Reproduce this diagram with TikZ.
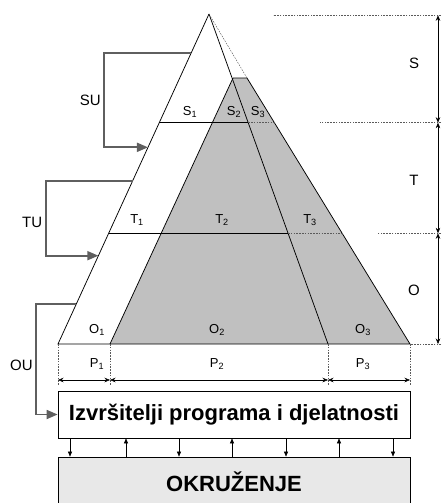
\documentclass[tikz,border=0pt]{standalone}
\usepackage{fontspec}
\setmainfont{Liberation Sans}
\usetikzlibrary{arrows.meta,calc}
\tikzset{every picture/.style={line width=0.75pt}}
\tikzset{
	guide/.style={line width=0.45pt, draw={rgb, 255:red, 90; green, 90; blue, 90 }, dash pattern=on 1.6pt off 1.2pt},
	dim/.style={line width=0.55pt, {Stealth[length=5.5pt,width=4.5pt]}-{Stealth[length=5.5pt,width=4.5pt]}},
	fb/.style={line width=1.7pt, draw={rgb, 255:red, 95; green, 95; blue, 95 }, -{Triangle[length=11pt,width=9pt]}},
	link/.style={line width=0.5pt, -{Triangle[length=5pt,width=4pt]}},
	sublbl/.style={font=\fontsize{13}{15}\selectfont, inner sep=0pt},
	biglbl/.style={font=\fontsize{15}{17}\selectfont, inner sep=0pt},
	boxtxt/.style={font=\fontsize{22}{26}\selectfont\bfseries, inner sep=0pt, minimum width=352pt}}

\begin{document}
\begin{tikzpicture}[x=1pt,y=1pt,yscale=-1,xscale=1]
	\useasboundingbox (0,0) rectangle (443,503);

	% pyramid corners
	\coordinate (apex) at (209,14);
	\coordinate (bl) at (58,344);
	\coordinate (br) at (410,344);
	\coordinate (b2) at (110,344);
	\coordinate (b3) at (328,344);
	\coordinate (c2) at (233,78);
	\coordinate (c3) at (247,78);
	% level lines
	\coordinate (s0) at ($(apex)!0.3294!(bl)$);
	\coordinate (s3) at ($(apex)!0.3294!(b3)$);
	\coordinate (s4) at ($(apex)!0.3294!(br)$);
	\coordinate (t0) at ($(apex)!0.6645!(bl)$);
	\coordinate (t3) at ($(apex)!0.6645!(b3)$);
	\coordinate (t4) at ($(apex)!0.6645!(br)$);

	%Shape: shaded part
	\fill [fill={rgb, 255:red, 192; green, 192; blue, 192 }] (c2) -- (c3) -- (br) -- (b2) -- cycle;
	%Shape: outline
	\draw (c2) -- (c3) -- (br) -- (bl) -- (apex) ;
	\draw (apex) -- (b3) ;
	\draw (c2) -- (b2) ;
	\draw [guide] (apex) -- (c3) ;
	%Straight Lines
	\draw (s0) -- (s3) ;
	\draw [guide] (s3) -- (s4) ;
	\draw (t0) -- (t3) ;
	\draw [guide] (t3) -- (t4) ;

	% Text Node
	\node [sublbl] (S1) at (190,112) {S\textsubscript{1}};
	\node [sublbl] (S2) at (234,112) {S\textsubscript{2}};
	\node [sublbl] (S3) at (258,112) {S\textsubscript{3}};
	\node [sublbl] (T1) at (137,220) {T\textsubscript{1}};
	\node [sublbl] (T2) at (222,220) {T\textsubscript{2}};
	\node [sublbl] (T3) at (310,220) {T\textsubscript{3}};
	\node [sublbl] (O1) at (97,330) {O\textsubscript{1}};
	\node [sublbl] (O2) at (217,330) {O\textsubscript{2}};
	\node [sublbl] (O3) at (363,330) {O\textsubscript{3}};

	% right dimensions
	\coordinate (h0) at (438,15.3);
	\coordinate (h1) at (438,122.7);
	\coordinate (h2) at (438,233.3);
	\coordinate (h3) at (438,344);
	\draw [guide] (441,15.3) -- (273,15.3) ;
	\draw [guide] (441,122.7) -- (320,122.7) ;
	\draw [guide] (441,233.3) -- (377,233.3) ;
	\draw [guide] (441,344) -- (br) ;
	\draw [dim] (h0) -- (h1) ;
	\draw [dim] (h1) -- (h2) ;
	\draw [dim] (h2) -- (h3) ;
	% Text Node
	\node [biglbl] (S) at (414,63) {S};
	\node [biglbl] (T) at (414,180) {T};
	\node [biglbl] (O) at (414,290) {O};

	% bottom dimensions
	\foreach \c in {bl,b2,b3,br}
		\draw [guide] (\c) -- ++(0,41) ;
	\coordinate (p0) at ($(bl)+(0,36)$);
	\coordinate (p1) at ($(b2)+(0,36)$);
	\coordinate (p2) at ($(b3)+(0,36)$);
	\coordinate (p3) at ($(br)+(0,36)$);
	\draw [dim] (p0) -- (p1) ;
	\draw [dim] (p1) -- (p2) ;
	\draw [dim] (p2) -- (p3) ;
	% Text Node
	\node [sublbl] (P1) at (97,364) {P\textsubscript{1}};
	\node [sublbl] (P2) at (217,364) {P\textsubscript{2}};
	\node [sublbl] (P3) at (363,364) {P\textsubscript{3}};

	% boxes
	\node [boxtxt, draw, minimum height=47pt] (izv) at (234,414.5) {Izvršitelji programa i djelatnosti};
	\node [boxtxt, draw, fill={rgb, 255:red, 232; green, 232; blue, 232 }, minimum height=50pt] (env) at (234,482) {OKRUŽENJE};
	\foreach \x in {70,179,286,393}
		\draw [link] (izv.south -| \x,0) -- (env.north -| \x,0) ;
	\foreach \x in {126,232,339}
		\draw [link] (env.north -| \x,0) -- (izv.south -| \x,0) ;

	% feedback loops
	\coordinate (su1) at ($(apex)!0.119!(bl)$);
	\coordinate (su2) at ($(apex)!0.404!(bl)$);
	\coordinate (tu1) at ($(apex)!0.505!(bl)$);
	\coordinate (tu2) at ($(apex)!0.7324!(bl)$);
	\coordinate (ou1) at ($(apex)!0.8797!(bl)$);
	\draw [fb] (su1) -| (104,100) |- (su2) ;
	\draw [fb] (tu1) -| (45.7,222) |- (tu2) ;
	\draw [fb] (ou1) -| (36,365) |- (izv.west) ;
	% Text Node
	\node [biglbl, anchor=east] (SU) at (101,100) {SU};
	\node [biglbl, anchor=east] (TU) at (42.5,222) {TU};
	\node [biglbl, anchor=east] (OU) at (33,365) {OU};

\end{tikzpicture}
\end{document}
